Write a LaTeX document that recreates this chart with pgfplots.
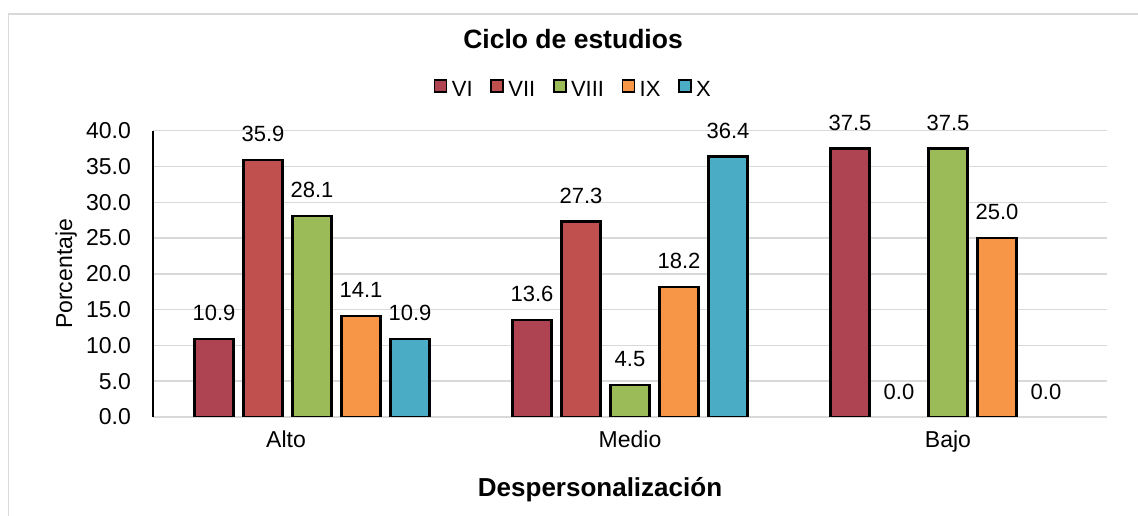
\documentclass[border=0pt]{standalone}
\usepackage{fontspec}
\setmainfont{Liberation Sans}
\usepackage{pgfplots}
\pgfplotsset{compat=1.18}
\definecolor{cVI}{HTML}{AE4451}
\definecolor{cVII}{HTML}{C0504D}
\definecolor{cVIII}{HTML}{9BBB59}
\definecolor{cIX}{HTML}{F79646}
\definecolor{cX}{HTML}{4BACC6}
\definecolor{gridgray}{HTML}{D9D9D9}
\newcommand\fs[1]{\fontsize{#1}{#1}\selectfont}
\pgfplotsset{barstyle/.style={draw=black, line width=2.2pt, fill=#1}}

\begin{document}
\begin{tikzpicture}
\useasboundingbox (0,0) rectangle (1138pt,516pt);
\draw[gridgray,line width=1.5pt] (8.5pt,0pt) -- (8.5pt,502pt) -- (1140pt,502pt);
\begin{axis}[
  at={(153pt,99pt)}, anchor=south west,
  scale only axis, width=954pt, height=286.3pt,
  ybar, bar width=39pt,
  xmin=-0.5, xmax=2.5, ymin=0, ymax=40,
  xtick={0,1,2}, xticklabels={Alto\hspace*{52pt},Medio,Bajo},
  ytick={0,5,...,40},
  major tick length=0pt,
  axis lines=left,
  axis line style={-, line width=2pt, black},
  x axis line style={draw=none},
  ymajorgrids, grid style={gridgray, line width=1.5pt},
  /pgf/number format/assume math mode=true,
  tick label style={font=\fs{23}},
  yticklabel style={/pgf/number format/fixed, /pgf/number format/fixed zerofill, /pgf/number format/precision=1, anchor=east, inner sep=0pt, xshift=-22pt},
  xticklabel style={anchor=base, inner sep=0pt, yshift=-31pt},
  ylabel={Porcentaje},
  ylabel style={at={(axis description cs:-0.0849,0.5)}, anchor=base, font=\fs{23}},
  xlabel={Despersonalización},
  xlabel style={at={(axis description cs:0.4686,-0.2794)}, anchor=base, font=\bfseries\fs{26}},
  title={Ciclo de estudios},
  title style={at={(axis description cs:0.4403,1.2645)}, anchor=base, font=\bfseries\fs{26.5}},
  nodes near coords={\pgfmathprintnumber[fixed,fixed zerofill,precision=1]{\pgfplotspointmeta}},
  nodes near coords style={font=\fs{22}, inner sep=0pt, anchor=south, yshift=17pt, text=black},
  legend style={at={(axis description cs:0.4403,1.1456)}, anchor=center, draw=none, fill=none,
    legend columns=5, font=\fs{22},
    nodes={inner sep=1.5pt},
    /tikz/every odd column/.append style={column sep=3pt},
    /tikz/every even column/.append style={column sep=16pt}},
  legend image code/.code={\draw[#1, line width=1.7pt] (0pt,-2.5pt) rectangle (12pt,9.5pt);},
]
\addplot[barstyle=cVI, bar shift=-98pt] coordinates {(0,10.9) (1,13.6) (2,37.5)};
\addlegendentry{VI}
\addplot[barstyle=cVII, bar shift=-49pt] coordinates {(0,35.9) (1,27.3)};
\addlegendentry{VII}
\addplot[barstyle=cVIII, bar shift=0pt] coordinates {(0,28.1) (1,4.5) (2,37.5)};
\addlegendentry{VIII}
\addplot[barstyle=cIX, bar shift=49pt] coordinates {(0,14.1) (1,18.2) (2,25.0)};
\addlegendentry{IX}
\addplot[barstyle=cX, bar shift=98pt] coordinates {(0,10.9) (1,36.4)};
\addlegendentry{X}
% zero-height bars: label only, no outline
\addplot[draw=none, fill=none, bar shift=-49pt, forget plot] coordinates {(2,0.0)};
\addplot[draw=none, fill=none, bar shift=98pt, forget plot] coordinates {(2,0.0)};
\end{axis}
\end{tikzpicture}
\end{document}
